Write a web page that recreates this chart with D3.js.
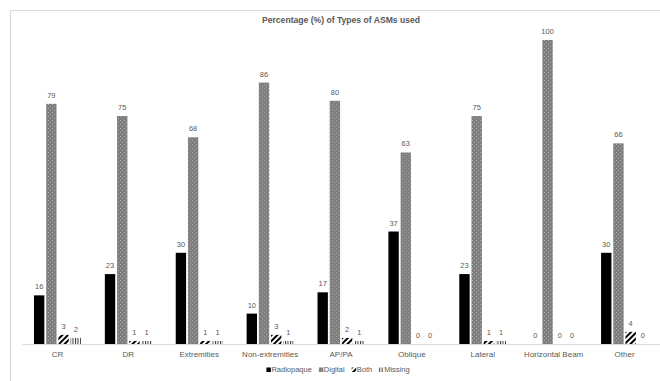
<!DOCTYPE html>
<html><head><meta charset="utf-8">
<script src="https://cdn.jsdelivr.net/npm/d3@7"></script>
<style>body{margin:0;background:#fff;overflow:hidden}svg{display:block;font-family:"Liberation Sans",Arial,sans-serif}</style>
</head><body><svg id="c" width="660" height="381"></svg>
<script>
const categories = ["CR","DR","Extremities","Non-extremities","AP/PA","Oblique","Lateral","Horizontal Beam","Other"];
const seriesNames = ["Radiopaque","Digital","Both","Missing"];
const radiopaque = [16,23,30,10,17,37,23,0,30];
const digital = [79,75,68,86,80,63,75,100,66];
const both = [3,1,1,3,2,0,1,0,4];
const missing = [2,1,1,1,1,0,1,0,0];
const yTicks = [0,100];
const title = "Percentage (%) of Types of ASMs used";

const seriesValues = [radiopaque, digital, both, missing];
const svg = d3.select("#c");
const defs = svg.append("defs");
// Digital: gray with faint light dots
const pd = defs.append("pattern").attr("id","pDig").attr("patternUnits","userSpaceOnUse").attr("width",4).attr("height",4);
pd.append("rect").attr("width",4).attr("height",4).attr("fill","#7f7f7f");
pd.append("rect").attr("x",0).attr("y",0).attr("width",1).attr("height",1).attr("fill","#a5a5a5");
pd.append("rect").attr("x",2).attr("y",2).attr("width",1).attr("height",1).attr("fill","#a5a5a5");
// Both: wide diagonal
const pb = defs.append("pattern").attr("id","pBoth").attr("patternUnits","userSpaceOnUse").attr("width",4).attr("height",4).attr("patternTransform","rotate(45)");
pb.append("rect").attr("width",4).attr("height",4).attr("fill","#fff");
pb.append("rect").attr("width",2).attr("height",4).attr("fill","#000");
// Missing: vertical lines
const pm = defs.append("pattern").attr("id","pMiss").attr("patternUnits","userSpaceOnUse").attr("width",2.5).attr("height",4);
pm.append("rect").attr("width",2.5).attr("height",4).attr("fill","#fff");
pm.append("rect").attr("width",1).attr("height",4).attr("fill","#333");
const fills = ["#000","url(#pDig)","url(#pBoth)","url(#pMiss)"];

// frame (top and left edges visible only)
svg.append("path").attr("d","M10.5,381V10.5H660").attr("fill","none").attr("stroke","#d9d9d9");

const x0 = d3.scaleBand().domain(categories).range([22,660]).padding(0);
const x1 = d3.scaleBand().domain(seriesNames).range([0,x0.bandwidth()]).paddingInner(0.15).paddingOuter(0.98);
const y = d3.scaleLinear().domain([yTicks[0], yTicks[1]]).range([344,40]);

svg.append("text").attr("x",341).attr("y",23).attr("text-anchor","middle")
  .attr("font-size",8.6).attr("font-weight","bold").attr("fill","#595959").text(title);

const g = svg.append("g");
categories.forEach((c,i)=>{
  seriesNames.forEach((s,j)=>{
    const v = seriesValues[j][i];
    const bx = x0(c)+x1(s);
    g.append("rect").attr("x",bx).attr("y",y(v)).attr("width",x1.bandwidth()).attr("height",y(0)-y(v)).attr("fill",fills[j]);
    g.append("text").attr("x",bx+x1.bandwidth()/2).attr("y",y(v)-6).attr("text-anchor","middle")
      .attr("font-size",7.5).attr("fill","#595959").text(v);
  });
});

// x axis
const xa = svg.append("g").attr("transform","translate(0,344)").call(d3.axisBottom(x0).tickSize(0).tickPadding(7));
xa.select(".domain").attr("stroke","#d9d9d9");
xa.selectAll("text").attr("font-size",8).attr("fill","#595959").attr("font-family","Liberation Sans, Arial, sans-serif");

// legend
const leg = svg.append("g");
let lx = 0;
seriesNames.forEach((s,j)=>{
  const it = leg.append("g").attr("transform",`translate(${lx},0)`);
  it.append("rect").attr("x",0).attr("y",-4.5).attr("width",4.5).attr("height",4.5).attr("fill",fills[j]);
  const t = it.append("text").attr("x",5).attr("y",0).attr("font-size",7.5).attr("fill","#595959").text(s);
  lx += 5 + t.node().getComputedTextLength() + 7;
});
leg.attr("transform",`translate(${338 - (lx-7)/2},372)`);
</script></body></html>
